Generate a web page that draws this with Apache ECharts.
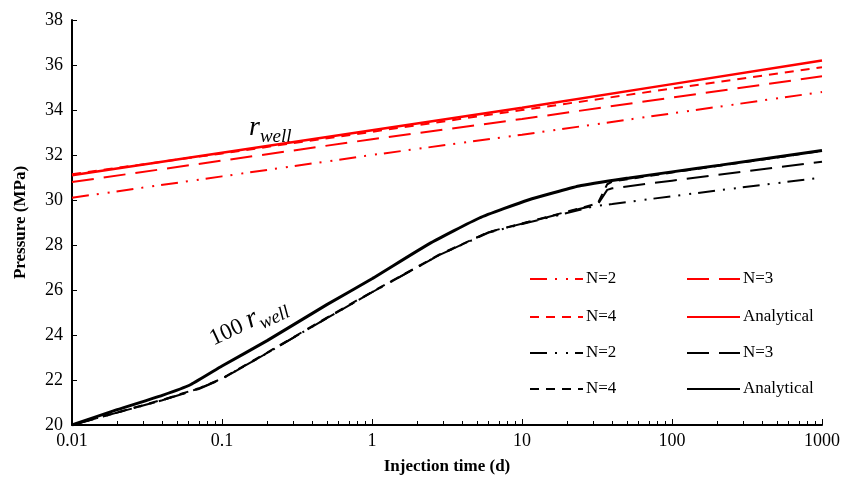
<!DOCTYPE html>
<html>
<head>
<meta charset="utf-8">
<script src="https://cdn.jsdelivr.net/npm/echarts@6/dist/echarts.min.js"></script>
<style>
  html, body { margin: 0; padding: 0; background: #fff; }
  #chart { width: 845px; height: 482px; }
</style>
</head>
<body>
<div id="chart"></div>
<script>
// red group: pressure at r_well
var tRed = [0.01, 0.1, 1, 10, 100, 1000];
var redN2 = [30.1, 31.05, 32.0, 32.9, 33.85, 34.8];
var redN3 = [30.8, 31.75, 32.7, 33.6, 34.55, 35.5];
var redN4 = [31.15, 32.07, 33.03, 34.0, 34.95, 35.9];
var redAna = [31.1, 32.1, 33.1, 34.1, 35.15, 36.2];

// black group: pressure at 100 r_well
var tAna = [0.01, 0.02, 0.04, 0.062, 0.1, 0.2, 0.5, 1, 2.4, 5.2, 11, 24, 52, 100, 210, 1000];
var blkAna = [20.0, 20.68, 21.32, 21.8, 22.62, 23.75, 25.35, 26.5, 28.05, 29.2, 30.0, 30.62, 30.98, 31.25, 31.55, 32.2];

var tN2 = [0.01, 0.02, 0.04, 0.07, 0.1, 0.2, 0.5, 1, 2.8, 6, 11, 24, 30, 40, 100, 1000];
var blkN2 = [20.0, 20.55, 21.1, 21.62, 22.05, 23.2, 24.75, 25.9, 27.55, 28.55, 29.0, 29.55, 29.72, 29.82, 30.17, 31.0];
var tN3 = [0.01, 0.02, 0.04, 0.07, 0.1, 0.2, 0.5, 1, 2.8, 6, 11, 24, 32, 37, 40, 100, 1000];
var blkN3 = [20.0, 20.55, 21.1, 21.6, 22.05, 23.2, 24.75, 25.9, 27.55, 28.57, 29.02, 29.6, 29.8, 30.45, 30.52, 30.86, 31.7];
var tN4 = [0.01, 0.02, 0.04, 0.07, 0.1, 0.2, 0.5, 1, 2.8, 6, 11, 24, 32, 37, 40, 100, 1000];
var blkN4 = [20.0, 20.56, 21.12, 21.63, 22.07, 23.22, 24.77, 25.92, 27.57, 28.58, 29.03, 29.62, 29.85, 30.7, 30.82, 31.22, 32.18];

var xTicks = [0.01, 0.1, 1, 10, 100, 1000];

var RED = "#ff0000";
var BLK = "#000000";
var FONT = "Liberation Serif";

var pairs = function (t, p) {
  return t.map(function (v, i) {
    return [v, p[i]];
  });
};

var DASH_DOT2 = [17, 8, 2, 9, 2, 7];
var DASH_LONG = [22, 10];
var DASH_SHORT = [9, 7];

var line = function (name, color, t, p, type, width, z, smooth) {
  return {
    name: name,
    type: "line",
    data: pairs(t, p),
    symbol: "none",
    showSymbol: false,
    silent: true,
    smooth: smooth || false,
    z: z,
    lineStyle: { color: color, width: width, type: type },
    itemStyle: { color: color },
  };
};

var legendAt = function (name, left, cy) {
  return {
    data: [name],
    left: left,
    top: cy - 10,
    padding: 0,
    itemWidth: 53,
    itemHeight: 14,
    selectedMode: false,
    itemStyle: { opacity: 0 },
    formatter: function (n) {
      return n.trim();
    },
    textStyle: { fontFamily: FONT, fontSize: 17, color: "#000", lineHeight: 20, padding: [0, 0, 0, -2] },
  };
};

var italicR = { fontFamily: FONT, fontStyle: "italic", fontSize: 28, fill: "#000", verticalAlign: "top", lineHeight: 32 };
var italicSub = { fontFamily: FONT, fontStyle: "italic", fontSize: 19, fill: "#000", verticalAlign: "bottom", lineHeight: 32 };

var chart = echarts.init(document.getElementById("chart"));
chart.setOption({
  animation: false,
  textStyle: { fontFamily: FONT },
  grid: { left: 72, right: 23, top: 20, bottom: 57, outerBoundsMode: "none" },
  legend: [
    legendAt("N=2", 529, 279),
    legendAt("N=3", 686, 279),
    legendAt("N=4", 529, 317),
    legendAt("Analytical", 686, 317),
    legendAt("N=2 ", 529, 353),
    legendAt("N=3 ", 686, 353),
    legendAt("N=4 ", 529, 389),
    legendAt("Analytical ", 686, 389),
  ],
  xAxis: {
    type: "log",
    logBase: 10,
    min: 0.01,
    max: 1000,
    name: "Injection time (d)",
    nameLocation: "middle",
    nameGap: 33,
    nameTextStyle: { fontFamily: FONT, fontSize: 17, fontWeight: "bold", color: "#000" },
    axisLine: { lineStyle: { color: "#000", width: 2 } },
    axisTick: { inside: true, length: 6, lineStyle: { color: "#000", width: 1 } },
    minorTick: { show: true, splitNumber: 9, length: 4, lineStyle: { color: "#000", width: 1 } },
    splitLine: { show: false },
    axisLabel: {
      fontFamily: FONT,
      fontSize: 18,
      color: "#000",
      margin: 7,
      formatter: function (v) {
        var best = xTicks.reduce(function (a, b) {
          return Math.abs(Math.log10(b) - Math.log10(v)) < Math.abs(Math.log10(a) - Math.log10(v)) ? b : a;
        });
        return String(best);
      },
    },
  },
  yAxis: {
    type: "value",
    min: 20,
    max: 38,
    interval: 2,
    name: "Pressure (MPa)",
    nameLocation: "middle",
    nameGap: 43,
    nameTextStyle: { fontFamily: FONT, fontSize: 17, fontWeight: "bold", color: "#000" },
    axisLine: { show: true, lineStyle: { color: "#000", width: 2 } },
    axisTick: { show: true, inside: true, length: 5, lineStyle: { color: "#000", width: 1 } },
    splitLine: { show: false },
    axisLabel: { fontFamily: FONT, fontSize: 18, color: "#000", margin: 9 },
  },
  graphic: [
    {
      type: "text",
      x: 249,
      y: 146,
      silent: true,
      style: {
        text: "{r|r}{s|well}",
        verticalAlign: "bottom",
        rich: { r: italicR, s: italicSub },
      },
    },
    {
      type: "text",
      x: 218,
      y: 355,
      rotation: (25 * Math.PI) / 180,
      silent: true,
      style: {
        text: "{n|100 }{r|r}{s|well}",
        verticalAlign: "bottom",
        rich: {
          n: { fontFamily: FONT, fontSize: 23, fill: "#000", verticalAlign: "top", lineHeight: 32, padding: [4, 0, 0, 0] },
          r: italicR,
          s: italicSub,
        },
      },
    },
  ],
  series: [
    line("Analytical", RED, tRed, redAna, "solid", 2.5, 2),
    line("N=2", RED, tRed, redN2, DASH_DOT2, 2, 3),
    line("N=3", RED, tRed, redN3, DASH_LONG, 2, 3),
    line("N=4", RED, tRed, redN4, DASH_SHORT, 2, 3),
    line("Analytical ", BLK, tAna, blkAna, "solid", 3, 2, 0.15),
    line("N=2 ", BLK, tN2, blkN2, DASH_DOT2, 2, 3),
    line("N=3 ", BLK, tN3, blkN3, DASH_LONG, 2, 3),
    line("N=4 ", BLK, tN4, blkN4, DASH_SHORT, 2, 3),
  ],
});
</script>
</body>
</html>
